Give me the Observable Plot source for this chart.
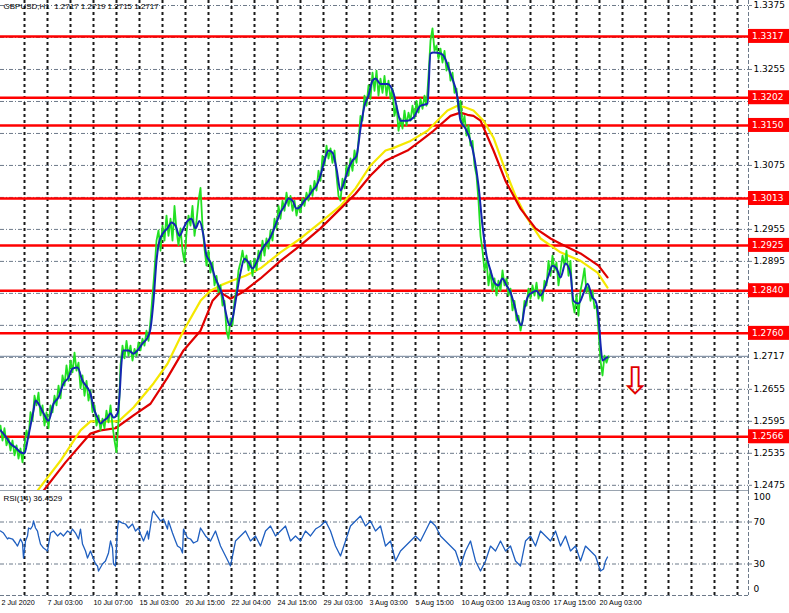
<!DOCTYPE html>
<html><head><meta charset="utf-8">
<script src="https://cdn.jsdelivr.net/npm/d3@7"></script>
<script src="https://cdn.jsdelivr.net/npm/@observablehq/plot@0.6"></script>
<style>
html,body{margin:0;padding:0;background:#fff;}
#chart{width:789px;height:613px;position:relative;overflow:hidden;background:#fff;}
#chart svg{display:block;}
</style></head><body><div id="chart"></div>
<script>
// ---------- data ----------
const symbolTitle = "GBPUSD,H1  1.2717 1.2719 1.2715 1.2717";
const rsiTitle = "RSI(14) 36.4529";
const priceTicks = [1.3375,1.3315,1.3255,1.3195,1.3135,1.3075,1.3015,1.2955,1.2895,1.2835,1.2775,1.2715,1.2655,1.2595,1.2535,1.2475];
const levelPrices = [1.3317,1.3202,1.3150,1.3013,1.2925,1.2840,1.2760,1.2566];
const currentPrice = 1.2717;
const rsiTicks = [100,70,30,0];
const rsiLevels = [70,30];
const timeLabels = ["2 Jul 2020","7 Jul 03:00","10 Jul 07:00","15 Jul 03:00","20 Jul 15:00","22 Jul 04:00","24 Jul 15:00","29 Jul 03:00","3 Aug 03:00","5 Aug 15:00","10 Aug 03:00","13 Aug 03:00","17 Aug 15:00","20 Aug 03:00"];
const arrowBar = 635, arrowPrice = 1.2670;

// close prices, one every 2 bars starting at bar 0
const closeStep = 2;
const closePrices = [
1.2587,1.2559,1.2582,1.2550,1.2563,1.2540,1.2559,1.2531,1.2550,1.2525,
1.2544,1.2518,1.2550,1.2578,1.2563,1.2612,1.2596,1.2643,1.2625,1.2649,
1.2606,1.2625,1.2587,1.2612,1.2582,1.2625,1.2612,1.2643,1.2625,1.2662,
1.2638,1.2681,1.2662,1.2700,1.2671,1.2709,1.2687,1.2724,1.2690,1.2705,
1.2657,1.2681,1.2643,1.2671,1.2634,1.2653,1.2612,1.2625,1.2587,1.2606,
1.2578,1.2600,1.2582,1.2615,1.2593,1.2625,1.2587,1.2559,1.2537,1.2596,
1.2700,1.2737,1.2713,1.2746,1.2718,1.2737,1.2709,1.2731,1.2718,1.2743,
1.2728,1.2750,1.2737,1.2765,1.2746,1.2784,1.2831,1.2878,1.2934,1.2953,
1.2915,1.2962,1.2934,1.2981,1.2943,1.2975,1.2934,1.2999,1.2953,1.2925,
1.2957,1.2915,1.2893,1.2949,1.2981,1.2962,1.2999,1.2943,1.2971,1.3009,
1.3033,1.2962,1.2919,1.2887,1.2915,1.2874,1.2893,1.2850,1.2868,1.2837,
1.2850,1.2812,1.2821,1.2765,1.2750,1.2788,1.2775,1.2821,1.2840,1.2878,
1.2893,1.2915,1.2893,1.2906,1.2878,1.2896,1.2868,1.2900,1.2878,1.2915,
1.2896,1.2934,1.2906,1.2938,1.2919,1.2953,1.2934,1.2975,1.2957,1.2999,
1.2975,1.3009,1.2990,1.3024,1.2999,1.3018,1.2990,1.3009,1.2981,1.2999,
1.2987,1.3013,1.2999,1.3024,1.3009,1.3037,1.3018,1.3046,1.3028,1.3065,
1.3046,1.3093,1.3075,1.3112,1.3088,1.3107,1.3080,1.3103,1.3056,1.3018,
1.3009,1.3050,1.3032,1.3075,1.3056,1.3088,1.3065,1.3103,1.3080,1.3121,
1.3168,1.3159,1.3206,1.3187,1.3225,1.3200,1.3249,1.3215,1.3253,1.3206,
1.3238,1.3211,1.3243,1.3206,1.3234,1.3200,1.3219,1.3168,1.3187,1.3140,
1.3163,1.3144,1.3178,1.3150,1.3174,1.3159,1.3187,1.3163,1.3196,1.3174,
1.3200,1.3181,1.3206,1.3187,1.3243,1.3309,1.3332,1.3290,1.3300,1.3275,
1.3294,1.3268,1.3290,1.3253,1.3268,1.3234,1.3249,1.3211,1.3219,1.3178,
1.3196,1.3150,1.3168,1.3131,1.3150,1.3112,1.3121,1.3075,1.3056,1.3009,
1.2943,1.2915,1.2878,1.2896,1.2850,1.2878,1.2840,1.2863,1.2831,1.2859,
1.2840,1.2878,1.2850,1.2863,1.2831,1.2844,1.2803,1.2821,1.2784,1.2793,
1.2765,1.2784,1.2821,1.2812,1.2844,1.2825,1.2850,1.2831,1.2855,1.2825,
1.2840,1.2821,1.2859,1.2850,1.2896,1.2868,1.2906,1.2878,1.2893,1.2850,
1.2878,1.2906,1.2887,1.2915,1.2868,1.2896,1.2821,1.2799,1.2831,1.2793,
1.2840,1.2859,1.2882,1.2837,1.2850,1.2821,1.2840,1.2807,1.2812,1.2765,
1.2709,1.2681,1.2718,1.2705,1.2717];

// smoothed (blue) line
const fastBars = [0,5,10,15,20,24,27,30,33,35,38,43,48,53,58,63,68,72,77,82,87,90,93,97,100,103,107,110,113,117,119,121,123,128,133,137,142,147,150,153,156,159,163,167,171,175,179,183,187,191,195,199,203,206,210,214,218,222,226,229,232,236,240,244,248,252,256,260,264,268,272,276,280,284,288,292,296,300,304,308,312,316,320,324,328,332,336,340,344,348,352,356,360,364,368,372,375,380,387,393,397,400,407,413,420,427,430,433,440,443,450,457,460,465,470,474,478,482,486,490,494,498,502,506,510,514,518,521,524,528,532,536,540,544,548,552,556,560,565,570,573,578,583,587,592,595,598,600,602,605,607];
const fastPrices = [1.2578,1.2567,1.2553,1.2546,1.2537,1.2535,1.2559,1.2587,1.2615,1.2634,
1.2628,1.2610,1.2596,1.2628,1.2640,1.2666,1.2677,1.2694,1.2696,1.2671,
1.2658,1.2647,1.2621,1.2602,1.2591,1.2596,1.2602,1.2610,1.2602,1.2610,
1.2643,1.2705,1.2728,1.2728,1.2722,1.2728,1.2741,1.2752,1.2769,1.2821,
1.2896,1.2934,1.2949,1.2957,1.2968,1.2962,1.2943,1.2957,1.2971,1.2975,
1.2957,1.2971,1.2943,1.2906,1.2893,1.2868,1.2850,1.2831,1.2793,1.2775,
1.2788,1.2831,1.2874,1.2900,1.2893,1.2882,1.2893,1.2912,1.2925,1.2934,
1.2949,1.2968,1.2987,1.2999,1.3013,1.3009,1.2994,1.2998,1.3009,1.3017,
1.3028,1.3037,1.3056,1.3084,1.3103,1.3099,1.3069,1.3028,1.3046,1.3069,
1.3084,1.3093,1.3144,1.3187,1.3206,1.3234,1.3238,1.3228,1.3228,1.3211,
1.3178,1.3159,1.3159,1.3165,1.3187,1.3191,1.3285,1.3287,1.3285,1.3281,
1.3247,1.3202,1.3159,1.3144,1.3121,1.3088,1.3037,1.2962,1.2906,1.2878,
1.2855,1.2850,1.2863,1.2850,1.2837,1.2812,1.2784,1.2775,1.2807,1.2831,
1.2837,1.2840,1.2831,1.2844,1.2868,1.2887,1.2882,1.2865,1.2891,1.2872,
1.2821,1.2816,1.2835,1.2853,1.2827,1.2821,1.2790,1.2741,1.2709,1.2713,
1.2715];

// yellow moving average
const yellowBars = [37,60,80,90,118,133,153,167,183,200,210,220,232,245,260,280,300,320,340,355,370,385,392,410,427,440,447,457,463,473,483,493,505,515,525,540,560,580,597,607];
const yellowPrices = [1.2465,1.2521,1.2578,1.2595,1.2595,1.2621,1.2666,1.2703,1.2765,1.2821,1.2840,1.2850,1.2859,1.2868,1.2882,1.2912,1.2938,1.2968,1.2999,1.3032,1.3075,1.3103,1.3107,1.3121,1.3140,1.3165,1.3178,1.3187,1.3185,1.3178,1.3159,1.3127,1.3065,1.3018,1.2981,1.2938,1.2912,1.2896,1.2874,1.2846];

// red moving average
const redBars = [43,65,90,100,115,133,150,167,183,200,212,220,230,242,260,280,300,320,340,355,370,385,407,420,433,450,460,467,473,480,493,505,520,535,550,560,580,598,607];
const redPrices = [1.2465,1.2518,1.2572,1.2578,1.2582,1.2606,1.2628,1.2677,1.2728,1.2765,1.2821,1.2837,1.2825,1.2837,1.2863,1.2896,1.2925,1.2957,1.2994,1.3022,1.3056,1.3084,1.3103,1.3121,1.3140,1.3168,1.3174,1.3170,1.3168,1.3159,1.3103,1.3046,1.2994,1.2957,1.2938,1.2928,1.2910,1.2887,1.2865];

// RSI(14)
const rsiBars = [0,3,7,8,12,15,17,20,22,23,25,27,28,30,32,33,35,37,38,40,43,47,50,53,57,60,63,67,70,72,75,78,80,82,85,87,90,93,95,97,98,102,105,108,110,112,113,115,117,118,122,125,128,132,135,138,140,143,147,148,152,153,155,158,160,163,167,168,172,175,177,180,182,183,187,190,193,197,200,
205,210,215,220,225,230,235,240,245,250,255,260,265,270,275,280,285,290,295,300,305,310,315,320,325,330,335,340,345,350,355,360,365,370,375,380,385,390,395,400,405,410,415,420,425,430,435,440,445,450,455,460,465,470,475,480,485,490,495,500,505,510,515,520,525,530,535,540,545,550,555,560,565,570,575,580,585,590,595,600,603,605,607];
const rsiValues = [61.4,59.5,53.8,54.8,53.8,50.0,47.1,53.8,50.0,35.7,51.9,56.7,64.3,63.3,66.2,71.0,64.3,61.4,56.7,49.0,45.2,42.4,59.5,61.4,56.7,59.5,56.7,61.4,59.5,63.3,59.5,53.8,63.3,49.0,42.4,35.7,42.4,34.8,30.0,28.1,23.3,30.0,32.9,40.5,51.9,45.2,30.0,28.1,63.3,71.0,69.0,68.1,64.3,68.1,61.4,64.3,58.6,51.9,61.4,53.8,78.6,80.5,77.6,73.8,71.0,72.9,63.3,71.0,59.5,51.9,47.1,45.2,40.5,63.3,54.8,53.8,50.0,51.9,64.3,
56.7,51.9,61.4,47.1,37.6,28.1,51.9,56.7,61.4,51.9,
56.7,47.1,61.4,66.2,56.7,61.4,66.2,51.9,56.7,51.9,
61.4,56.7,63.3,66.2,71.0,61.4,47.1,37.6,51.9,66.2,
71.0,75.7,66.2,71.0,61.4,66.2,47.1,51.9,32.9,42.4,
47.1,51.9,56.7,51.9,61.4,71.0,66.2,56.7,51.9,47.1,
42.4,28.1,42.4,51.9,32.9,23.3,32.9,47.1,42.4,51.9,
42.4,47.1,32.9,28.1,51.9,56.7,47.1,61.4,56.7,51.9,
61.4,47.1,56.7,42.4,47.1,32.9,47.1,42.4,37.6,23.3,
25.2,32.9,36.7];

// ---------- derived tables ----------
const closeData = closePrices.map((p, i) => ({bar: i * closeStep, price: p}));
const fastData = fastBars.map((b, i) => ({bar: b, price: fastPrices[i]}));
const yellowData = yellowBars.map((b, i) => ({bar: b, price: yellowPrices[i]}));
const redData = redBars.map((b, i) => ({bar: b, price: redPrices[i]}));
const rsiData = rsiBars.map((b, i) => ({bar: b, rsi: rsiValues[i]}));

const W = 789, AXW = 41;
const xDomain = [0, 748];
const yDomain = [1.246525, 1.33844];
const gridBars = d3.range(24, xDomain[1], 23);
const labelData = timeLabels.map((t, i) => ({bar: 1 + 46 * i, t}));
const FONT = "'DejaVu Sans', sans-serif";
const SMALL = "'Liberation Sans', sans-serif";

// price tick labels that are not hidden behind a level / current-price box
const boxed = levelPrices.concat([currentPrice]);
const visibleTicks = priceTicks.filter(t => boxed.every(b => Math.abs(b - t) > 0.0018));

const GRIDH = "#6d7a8a";
const GRIDV = "#1a1a1a";

const main = Plot.plot({
  width: W, height: 490,
  marginLeft: 0, marginRight: AXW, marginTop: 0, marginBottom: 0,
  style: {background: "#fff", fontFamily: FONT, fontSize: "9px", color: "#000", overflow: "visible"},
  x: {domain: xDomain, axis: null},
  y: {domain: yDomain, axis: null},
  marks: [
    Plot.ruleY(priceTicks, {stroke: GRIDH, strokeWidth: 1, strokeDasharray: "4,2,1,2"}),
    Plot.ruleX(gridBars, {stroke: GRIDV, strokeWidth: 2, strokeDasharray: "3,3"}),
    Plot.ruleX([xDomain[1]], {stroke: GRIDH, strokeWidth: 1, strokeDasharray: "4,2"}),
    Plot.ruleY([currentPrice], {stroke: "#8a98aa", strokeWidth: 1.2}),
    Plot.ruleY(levelPrices, {stroke: "#ff0000", strokeWidth: 2.5}),
    Plot.line(yellowData, {x: "bar", y: "price", stroke: "#f5e800", strokeWidth: 2.2, clip: true}),
    Plot.line(redData, {x: "bar", y: "price", stroke: "#e00000", strokeWidth: 2.2, clip: true}),
    Plot.line(closeData, {x: "bar", y: "price", stroke: "#22e022", strokeWidth: 1.8, clip: true}),
    Plot.line(fastData, {x: "bar", y: "price", stroke: "#1426b0", strokeWidth: 2, curve: "monotone-x", clip: true}),
    Plot.text([{bar: arrowBar, price: arrowPrice}], {x: "bar", y: "price", text: () => "⇩", fontSize: 38, fill: "#e00000", fontFamily: FONT}),
    Plot.axisY(visibleTicks, {anchor: "right", label: null, tickSize: 3, tickPadding: 2, tickFormat: d => d.toFixed(4), fontSize: 9, stroke: GRIDH, fill: "#000"}),
    Plot.text([symbolTitle], {frameAnchor: "top-left", dx: 3, dy: 3, textAnchor: "start", lineAnchor: "top", fontSize: 8, fill: "#000", fontFamily: SMALL})
  ]
});

// label boxes for horizontal levels and current price, placed with the y scale
(function() {
  const ys = main.scale("y");
  const x0 = main.scale("x").range[1];
  const g = d3.select(main).append("g")
    .attr("font-family", FONT).attr("font-size", 9).attr("text-anchor", "start");
  levelPrices.forEach(v => {
    const py = ys.apply(v);
    g.append("rect").attr("x", x0).attr("y", py - 7).attr("width", AXW).attr("height", 14).attr("fill", "#ff0000");
    g.append("text").attr("x", x0 + 4).attr("y", py).attr("dy", "0.35em").attr("fill", "#fff").text(v.toFixed(4));
  });
  const pc = ys.apply(currentPrice);
  g.append("text").attr("x", x0 + 5).attr("y", pc).attr("dy", "0.35em").attr("fill", "#000").text(currentPrice.toFixed(4));
})();

const sub = Plot.plot({
  width: W, height: 123,
  marginLeft: 0, marginRight: AXW, marginTop: 0, marginBottom: 18,
  style: {background: "#fff", fontFamily: FONT, fontSize: "9px", color: "#000", overflow: "visible"},
  x: {domain: xDomain, axis: null},
  y: {domain: [0, 100], axis: null},
  marks: [
    Plot.ruleY(rsiLevels, {stroke: GRIDH, strokeWidth: 1, strokeDasharray: "4,2,1,2"}),
    Plot.ruleY([rsiTicks[0]], {stroke: "#9aa4b0", strokeWidth: 1}),
    Plot.ruleY([rsiTicks[3]], {stroke: GRIDH, strokeWidth: 1, strokeDasharray: "4,2"}),
    Plot.ruleX(gridBars, {stroke: GRIDV, strokeWidth: 2, strokeDasharray: "3,3"}),
    Plot.ruleX([xDomain[1]], {stroke: GRIDH, strokeWidth: 1, strokeDasharray: "4,2"}),
    Plot.line(rsiData, {x: "bar", y: "rsi", stroke: "#1f5fc0", strokeWidth: 1.3}),
    Plot.text([rsiTitle], {frameAnchor: "top-left", dx: 3, dy: 5, textAnchor: "start", lineAnchor: "top", fontSize: 8, fill: "#000", fontFamily: SMALL}),
    Plot.axisY(rsiLevels, {anchor: "right", label: null, tickSize: 3, tickPadding: 2, fontSize: 9, stroke: GRIDH, fill: "#000"}),
    Plot.axisY([rsiTicks[0]], {anchor: "right", label: null, tickSize: 0, tickPadding: 5, fontSize: 9, dy: 7, fill: "#000"}),
    Plot.axisY([rsiTicks[3]], {anchor: "right", label: null, tickSize: 0, tickPadding: 5, fontSize: 9, dy: -6, fill: "#000"}),
    Plot.text(labelData, {x: "bar", text: "t", frameAnchor: "bottom", dy: 9, textAnchor: "start", fontSize: 7.2, fill: "#000", fontFamily: SMALL})
  ]
});

const root = document.getElementById("chart");
root.appendChild(main);
root.appendChild(sub);
</script>
</body></html>
